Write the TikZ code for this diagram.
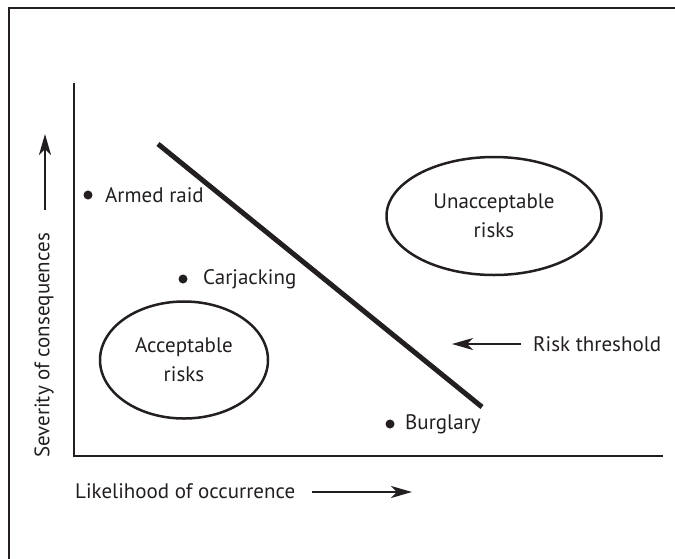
\documentclass[tikz,border=0pt]{standalone}
\usepackage{fontspec}
\setmainfont{PT Sans}
\usetikzlibrary{arrows.meta,shapes.geometric}
\definecolor{ink}{HTML}{231F20}
\tikzset{
  lbl/.style={font=\fontsize{21}{24}\selectfont, text=ink, inner sep=0pt},
  dotmark/.style={circle, fill=ink, inner sep=0pt, minimum size=9pt},
  region/.style={ellipse, draw=ink, line width=2.5pt, inner sep=0pt, align=center, font=\fontsize{21}{29}\selectfont, text=ink},
  axisline/.style={draw=ink, line width=2.5pt},
  arr/.style={draw=ink, line width=2.2pt, -{Stealth[length=21pt,width=12pt,inset=6pt]}},
}
\begin{document}
\begin{tikzpicture}[x=1pt,y=-1pt]
\useasboundingbox (0,0) rectangle (675,558);
% frame
\draw[ink, line width=2.2pt] (675,8) -- (9,8) -- (9,560);
% axes
\coordinate (ytop) at (74,83);
\coordinate (orig) at (74,456);
\coordinate (xend) at (663,456);
\draw[axisline] (ytop) -- (orig) -- (xend);
% threshold line
\coordinate (t1) at (158,144);
\coordinate (t2) at (482,407);
\draw[ink, line width=5pt] (t1) -- (t2);
% points
\node[dotmark] (d1) at (88,195) {};
\node[lbl, anchor=west] (l1) at (105,195) {Armed raid};
\node[dotmark] (d2) at (183,279) {};
\node[lbl, anchor=west] (l2) at (203,279) {Carjacking};
\node[dotmark] (d3) at (390,424) {};
\node[lbl, anchor=west] (l3) at (405,424) {Burglary};
% regions
\node[region, minimum width=215pt, minimum height=118pt] (un) at (494,216) {Unacceptable\\risks};
\node[region, minimum width=168pt, minimum height=117pt] (ac) at (184,360) {Acceptable\\risks};
% risk threshold
\node[lbl, anchor=west] (rt) at (533,344) {Risk threshold};
\coordinate (rtb) at (521,344);
\coordinate (rte) at (452,344);
\draw[arr] (rtb) -- (rte);
% x label
\node[lbl, anchor=west] (xl) at (75,491) {Likelihood of occurrence};
\coordinate (xa1) at (312,492);
\coordinate (xa2) at (412,492);
\draw[arr] (xa1) -- (xa2);
% y label
\node[lbl, rotate=90, anchor=west] (yl) at (44,458) {Severity of consequences};
\coordinate (ya1) at (45,210);
\coordinate (ya2) at (45,134);
\draw[arr] (ya1) -- (ya2);
\end{tikzpicture}
\end{document}
